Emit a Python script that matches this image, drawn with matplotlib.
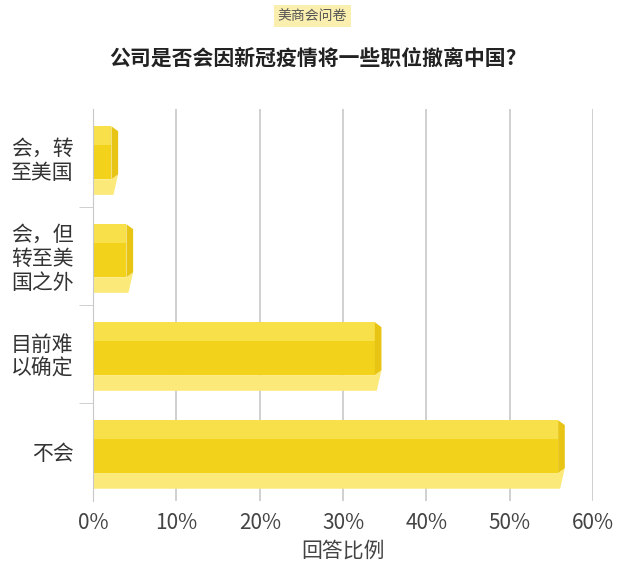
import matplotlib
matplotlib.use("Agg")
import matplotlib.pyplot as plt
from matplotlib.patches import Polygon, Rectangle
import numpy as np

plt.rcParams['font.family'] = ['Noto Sans CJK SC', 'DejaVu Sans']

categories = ["会，转\n至美国", "会，但\n转至美\n国之外", "目前难\n以确定", "不会"]
values = [2.2, 4.0, 33.8, 55.8]
xticks = [0, 10, 20, 30, 40, 50, 60]

fig = plt.figure(figsize=(6.25, 5.72), dpi=100)
ax = fig.add_axes([0.149, 0.125, 0.80, 0.685])
ax.set_xlim(0, 60)
ax.set_ylim(len(categories) - 0.5, -0.5)
for x in xticks:
    ax.axvline(x, color="#c8c8c8", lw=1.2, zorder=0)

dx = 0.8
for i, v in enumerate(values):
    top = i - 0.32
    mid = i + 0.22
    bot = i + 0.38
    # front face
    ax.add_patch(Rectangle((0, top), v, mid - top, facecolor="#f3d21c", edgecolor="none", zorder=2))
    ax.add_patch(Rectangle((0, top), v, (mid - top) * 0.35, facecolor="#f8e04a", edgecolor="none", zorder=2))
    # bottom face
    ax.add_patch(Polygon([(0, mid), (v, mid), (v + dx, mid - 0.05), (v + dx * 0.3, bot), (0, bot)],
                         closed=True, facecolor="#fbea7a", edgecolor="none", zorder=1))
    # side
    ax.add_patch(Polygon([(v, top), (v + dx, top + 0.05), (v + dx, mid - 0.05), (v, mid)],
                         closed=True, facecolor="#e8c414", edgecolor="none", zorder=2))

ax.set_yticks(range(len(categories)))
ax.set_yticklabels(categories, fontsize=15, color="#333333", linespacing=1.1)
ax.set_yticks([0.5, 1.5, 2.5], minor=True)
ax.tick_params(axis='y', which='major', length=0, pad=14)
ax.tick_params(axis='y', which='minor', length=10, color="#c8c8c8")
ax.set_xticks(xticks)
ax.set_xticklabels([f"{x}%" for x in xticks], fontsize=15, color="#444444")
ax.tick_params(axis='x', length=0, pad=8)
for s in ["top", "right", "bottom"]:
    ax.spines[s].set_visible(False)
ax.spines["left"].set_color("#c8c8c8")
ax.set_xlabel("回答比例", fontsize=15, color="#444444", labelpad=4)

fig.text(0.5, 0.898, "公司是否会因新冠疫情将一些职位撤离中国?", ha="center", va="center",
         fontsize=15, fontweight="bold", color="#222222")
fig.text(0.5, 0.972, "美商会问卷", ha="center", va="center", fontsize=10, color="#555555",
         bbox=dict(boxstyle="square,pad=0.3", facecolor="#fbefb0", edgecolor="none"))
fig.savefig("out.png", dpi=100, facecolor="white")
